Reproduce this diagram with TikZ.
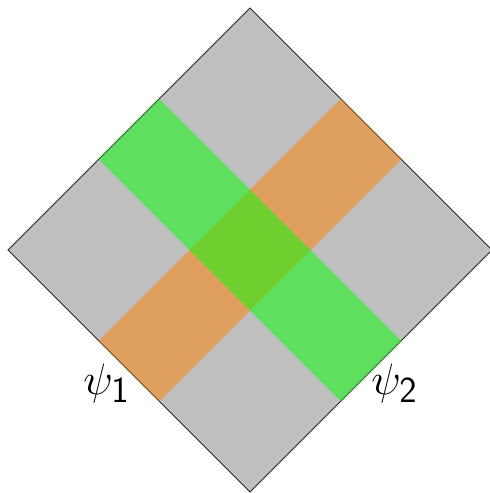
\documentclass[tikz,border=0pt]{standalone}
\begin{document}
\begin{tikzpicture}[x=1pt,y=-1pt,
  base/.style={fill=black!25,draw=black!85,line width=1pt,line join=miter},
  bandO/.style={fill=orange,fill opacity=0.5},
  bandG/.style={fill=green,fill opacity=0.5},
  lab/.style={inner sep=0pt,anchor=base west,font=\Huge,scale=1.77,transform shape}]
\useasboundingbox (0,0) rectangle (490,493);
\coordinate (T) at (250,8);
\coordinate (L) at (8,250);
\coordinate (R) at (492,250);
\coordinate (B) at (250,492);
\draw[base] (T) -- (L) -- (B) -- (R) -- cycle;
% orange band (lower-left to upper-right)
\fill[bandO] (98.75,340.75) -- (340.75,98.75) -- (401.25,159.25) -- (159.25,401.25) -- cycle;
% green band (upper-left to lower-right)
\fill[bandG] (159.25,98.75) -- (401.25,340.75) -- (340.75,401.25) -- (98.75,159.25) -- cycle;
\node[lab] (psi1) at (83,394) {$\psi_{\mathsf{1}}$};
\node[lab] (psi2) at (371,394) {$\psi_{\mathsf{2}}$};
\end{tikzpicture}
\end{document}
